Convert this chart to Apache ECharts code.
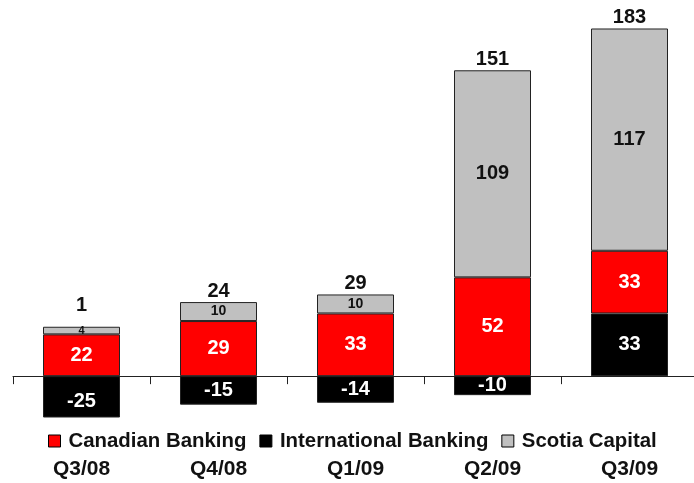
<!DOCTYPE html>
<html>
<head>
<meta charset="utf-8">
<script src="https://cdn.jsdelivr.net/npm/echarts@6/dist/echarts.min.js"></script>
<style>
  html, body { margin: 0; padding: 0; background: #fff; }
  #chart { width: 694px; height: 483px; }
</style>
</head>
<body>
<div id="chart"></div>
<script>
// Quarterly contribution by business line, stacked
const quarters = ['Q3/08', 'Q4/08', 'Q1/09', 'Q2/09', 'Q3/09'];
const canadianBanking = [22, 29, 33, 52, 33];
const internationalBanking = [-25, -15, -14, -10, 33];
const scotiaCapital = [4, 10, 10, 109, 117];
const totals = [1, 24, 29, 151, 183];

const FONT = '"Liberation Sans", Arial, sans-serif';
const chart = echarts.init(document.getElementById('chart'));

const segLabel = (color) => ({
  show: true,
  position: 'inside',
  color: color,
  fontFamily: FONT,
  fontWeight: 'bold',
  fontSize: 20
});
const border = { borderColor: '#222', borderWidth: 1 };

// small grey segments get a smaller label
const scotiaData = scotiaCapital.map(v => ({
  value: v,
  label: { fontSize: v < 5 ? 11 : (v < 20 ? 14 : 20) }
}));

// the deepest negative bar runs past the axis floor; nudge its label down
const intlData = internationalBanking.map(v => ({
  value: v,
  label: v < -21.5 ? { offset: [0, 5] } : {}
}));

// total labels sit on top of the positive stack
const stackTops = quarters.map((q, i) =>
  canadianBanking[i] + scotiaCapital[i] + Math.max(internationalBanking[i], 0));
const totalData = stackTops.map((top, i) => ({
  value: top,
  label: { formatter: String(totals[i]), offset: totals[i] < 5 ? [0, -10] : [0, 0] }
}));

chart.setOption({
  animation: false,
  grid: { left: 13, right: -4, top: 0, height: 417, outerBoundsMode: 'none', containLabel: false },
  xAxis: [
    {
      type: 'category',
      data: quarters,
      axisLine: { onZero: true, lineStyle: { color: '#222', width: 1 } },
      axisTick: { show: true, length: 8, lineStyle: { color: '#222' } },
      axisLabel: { show: false }
    },
    {
      type: 'category',
      data: quarters,
      position: 'bottom',
      axisLine: { show: false, onZero: false },
      axisTick: { show: false },
      axisLabel: {
        margin: 42,
        color: '#111',
        fontFamily: FONT,
        fontWeight: 'bold',
        fontSize: 21
      }
    }
  ],
  yAxis: {
    type: 'value',
    min: -21.5,
    max: 198,
    show: false,
    splitLine: { show: false }
  },
  legend: {
    left: 43,
    top: 426,
    itemWidth: 12,
    itemHeight: 12,
    itemGap: 13,
    icon: 'rect',
    textStyle: { fontFamily: FONT, fontWeight: 'bold', fontSize: 20.4, color: '#111', padding: [0, 0, 0, 3] },
    data: [
      { name: 'Canadian Banking', itemStyle: { color: '#ff0000', borderColor: '#000', borderWidth: 1 } },
      { name: 'International Banking', itemStyle: { color: '#000000', borderColor: '#000', borderWidth: 1 } },
      { name: 'Scotia Capital', itemStyle: { color: '#c0c0c0', borderColor: '#000', borderWidth: 1 } }
    ]
  },
  series: [
    {
      name: 'International Banking',
      type: 'bar',
      stack: 'total',
      barWidth: 77,
      data: intlData,
      itemStyle: Object.assign({ color: '#000000' }, border),
      label: segLabel('#ffffff')
    },
    {
      name: 'Canadian Banking',
      type: 'bar',
      stack: 'total',
      barWidth: 77,
      data: canadianBanking,
      itemStyle: Object.assign({ color: '#ff0000' }, border),
      label: segLabel('#ffffff')
    },
    {
      name: 'Scotia Capital',
      type: 'bar',
      stack: 'total',
      barWidth: 77,
      data: scotiaData,
      itemStyle: Object.assign({ color: '#c0c0c0' }, border),
      label: segLabel('#111111')
    },
    {
      name: 'Total',
      type: 'scatter',
      symbolSize: 0,
      data: totalData,
      itemStyle: { opacity: 1 },
      label: {
        show: true,
        position: 'top',
        distance: 1,
        color: '#111',
        opacity: 1,
        fontFamily: FONT,
        fontWeight: 'bold',
        fontSize: 20
      },
      silent: true
    }
  ]
});
</script>
</body>
</html>
